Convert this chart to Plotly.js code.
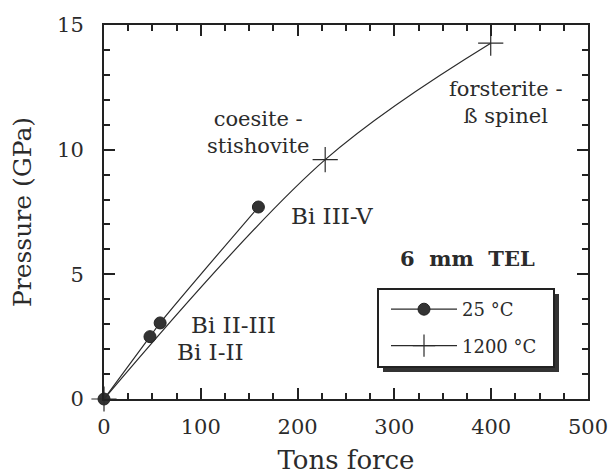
<!DOCTYPE html>
<html>
<head>
<meta charset="utf-8">
<script src="https://cdn.plot.ly/plotly-3.0.1.min.js"></script>
<style>html,body{margin:0;padding:0;background:#fff;}#chart{width:612px;height:475px;}</style>
</head>
<body>
<div id="chart"></div>
<script>
// Data
var force25 = [0, 47.5, 58, 159.5];
var pressure25 = [0, 2.5, 3.05, 7.7];
var force1200 = [0, 228.5, 399.5];
var pressure1200 = [0, 9.6, 14.27];
var seriesNames = ['25 °C', '1200 °C'];

var labelTexts = ['coesite -<br>stishovite', 'forsterite -<br>ß spinel', 'Bi III-V', 'Bi II-III', 'Bi I-II', '<b>6  mm  TEL</b>'];
var labelX = [159, 415, 236, 133.8, 110.5, 375];
var labelY = [10.69, 11.89, 7.35, 2.97, 1.90, 5.65];

var ink = '#2b2b2b';
var fam = 'DejaVu Serif';

var traces = [
  {
    x: force25, y: pressure25, name: seriesNames[0], type: 'scatter', mode: 'lines+markers',
    line: {color: ink, width: 1.2, shape: 'spline'},
    marker: {symbol: 'circle', size: 12, color: '#333', line: {color: '#222', width: 1}},
    cliponaxis: false, legendgroup: 'a'
  },
  {
    x: force1200, y: pressure1200, name: seriesNames[1], type: 'scatter', mode: 'lines+markers',
    line: {color: ink, width: 1.2, shape: 'spline'},
    marker: {symbol: 'cross-thin', size: 18, color: ink, line: {color: ink, width: 1.2}},
    cliponaxis: false, legendgroup: 'b'
  }
];

var L = 104, R = 588, T = 25, B = 399;
function px(x) { return (x - L) / (R - L); }
function py(y) { return (B - y) / (B - T); }

var annotations = labelTexts.map(function (t, i) {
  var f;
  if (i <= 1) f = {family: fam, size: 21, color: ink};
  else if (i <= 4) f = {family: fam, size: 23, color: ink};
  else f = {family: fam, size: 21, color: ink};
  return {x: labelX[i], y: labelY[i], xref: 'x', yref: 'y', text: t,
    showarrow: false, font: f, xanchor: 'center', yanchor: 'middle', align: 'center'};
});

var shapes = [
  {type: 'rect', xref: 'paper', yref: 'paper', x0: px(383), x1: px(559), y0: py(294), y1: py(372),
   fillcolor: '#333', line: {width: 0}},
  {type: 'rect', xref: 'paper', yref: 'paper', x0: px(378), x1: px(554), y0: py(289), y1: py(367),
   fillcolor: '#fff', line: {color: '#222', width: 2}}
];

var layout = {
  width: 612, height: 475,
  margin: {l: L, r: 612 - R, t: T, b: 475 - B, pad: 0},
  paper_bgcolor: '#fff', plot_bgcolor: '#fff',
  font: {family: fam, color: ink},
  showlegend: true,
  legend: {x: px(386), y: py(291), xanchor: 'left', yanchor: 'top', bgcolor: 'rgba(0,0,0,0)',
    borderwidth: 0, font: {family: fam, size: 18, color: ink}, itemwidth: 66, tracegroupgap: 10},
  xaxis: {
    range: [0, 500], tick0: 0, dtick: 100, ticks: 'inside', ticklen: 11, tickwidth: 1.5, tickcolor: '#222',
    showline: true, linewidth: 2, linecolor: '#222', mirror: 'ticks', showgrid: false, zeroline: false,
    minor: {dtick: 25, ticks: 'inside', ticklen: 6, tickwidth: 1.5, tickcolor: '#222', showgrid: false},
    tickfont: {family: fam, size: 21, color: ink}, ticklabelstandoff: 8,
    title: {text: 'Tons force', font: {family: fam, size: 26, color: ink}, standoff: 14}
  },
  yaxis: {
    range: [0, 15], tick0: 0, dtick: 5, ticks: 'inside', ticklen: 11, tickwidth: 1.5, tickcolor: '#222',
    showline: true, linewidth: 2, linecolor: '#222', mirror: 'ticks', showgrid: false, zeroline: false,
    minor: {dtick: 1, ticks: 'inside', ticklen: 6, tickwidth: 1.5, tickcolor: '#222', showgrid: false},
    tickfont: {family: fam, size: 21, color: ink}, ticklabelstandoff: 14,
    title: {text: 'Pressure (GPa)', font: {family: fam, size: 25, color: ink}, standoff: 18}
  },
  annotations: annotations,
  shapes: shapes
};

Plotly.newPlot('chart', traces, layout, {displayModeBar: false});
</script>
</body>
</html>
